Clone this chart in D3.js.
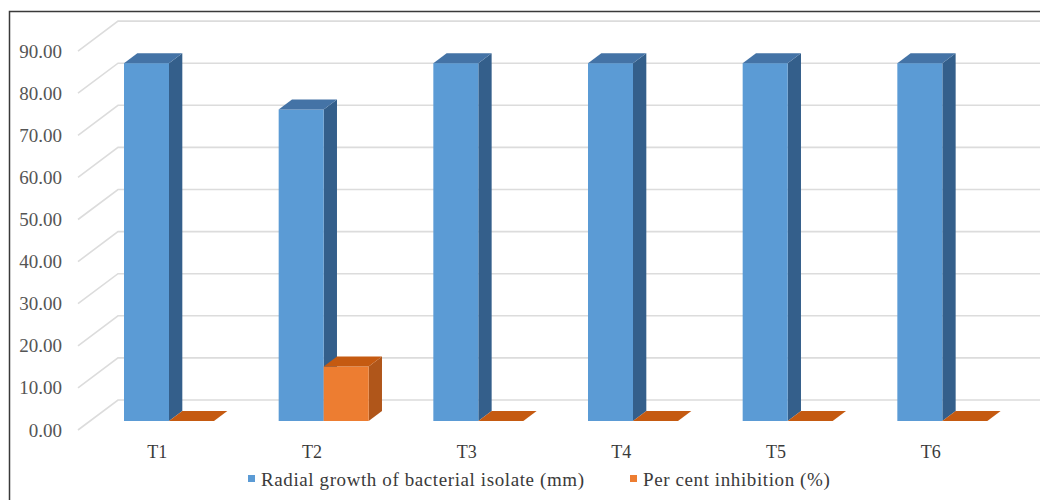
<!DOCTYPE html>
<html>
<head>
<meta charset="utf-8">
<script src="https://cdn.jsdelivr.net/npm/d3@7"></script>
<style>
  html, body { margin: 0; padding: 0; background: #fff; }
  svg { display: block; }
  svg text { font-family: "Times New Roman", Times, "Liberation Serif", "DejaVu Serif", serif !important; }
</style>
</head>
<body>
<svg id="chart" width="1040" height="500"></svg>
<script>
// Treatments and measured values
const categories = ["T1", "T2", "T3", "T4", "T5", "T6"];
const radialGrowth = [85.00, 74.00, 85.00, 85.00, 85.00, 85.00];
const perCentInhibition = [0.00, 12.94, 0.00, 0.00, 0.00, 0.00];
const seriesNames = ["Radial growth of bacterial isolate (mm)", "Per cent inhibition (%)"];
const yTicks = [0, 10, 20, 30, 40, 50, 60, 70, 80, 90];

const seriesValues = [radialGrowth, perCentInhibition];
const palette = [
  { front: "#5b9bd5", side: "#345f8b", top: "#4473a6" },
  { front: "#ed7d31", side: "#b0561a", top: "#c55a11" }
];

const W = 1040, H = 500;
const svg = d3.select("#chart");

// Oblique projection: depth 0 = front plane, depth 1 = back wall
const DX = 40, DY = -30;
const proj = (x, y, d) => [x + d * DX, y + d * DY];

const y = d3.scaleLinear().domain([0, 90]).range([430, 51.1]);
const x0 = d3.scaleBand().domain(categories).range([79, 1007]).padding(0);
const x1 = d3.scaleBand().domain(seriesNames).range([33, 123]).padding(0);
const barD0 = 0.3, barD1 = 0.633;

// Frame
svg.append("path")
  .attr("d", `M9.5,${H} V11.5 H${W}`)
  .attr("fill", "none").attr("stroke", "#3a3a3a").attr("stroke-width", 1.5);

// Gridlines: left side wall diagonals and back wall horizontals
const grid = svg.append("g").attr("stroke", "#dcdcdc").attr("stroke-width", 1.6).attr("fill", "none");
yTicks.forEach(v => {
  const a = proj(78, y(v), 0), b = proj(78, y(v), 1);
  grid.append("path").attr("d", `M${a[0]},${a[1]} L${b[0]},${b[1]} H${W + 10}`);
});

// Y axis labels
const yAxis = d3.axisLeft(y).tickValues(yTicks).tickSize(0).tickPadding(0)
  .tickFormat(d3.format(".2f"));
const gy = svg.append("g").attr("transform", "translate(62,0)").call(yAxis)
  .attr("font-family", null);
gy.select(".domain").remove();
gy.selectAll("text").attr("fill", "#555").attr("font-size", 19);

// 3D columns
const bars = svg.append("g");
const poly = pts => pts.map(p => p.join(",")).join(" ");
categories.forEach((c, i) => {
  seriesNames.forEach((s, k) => {
    const v = seriesValues[k][i];
    const xl = x0(c) + x1(s), xr = xl + x1.bandwidth();
    const yt = y(v), yb = y(0);
    const col = palette[k];
    const g = bars.append("g");
    // right side face
    g.append("polygon").attr("fill", col.side)
      .attr("points", poly([proj(xr, yt, barD0), proj(xr, yt, barD1), proj(xr, yb, barD1), proj(xr, yb, barD0)]));
    // front face
    const f0 = proj(xl, yt, barD0), f1 = proj(xr, yb, barD0);
    g.append("rect").attr("fill", col.front)
      .attr("x", f0[0]).attr("y", f0[1]).attr("width", f1[0] - f0[0]).attr("height", Math.max(0, f1[1] - f0[1]));
    // top face
    g.append("polygon").attr("fill", col.top)
      .attr("points", poly([proj(xl, yt, barD0), proj(xl, yt, barD1), proj(xr, yt, barD1), proj(xr, yt, barD0)]));
  });
});

// Category axis
const xAxis = d3.axisBottom(x0).tickSize(0).tickPadding(0);
const gx = svg.append("g").attr("transform", "translate(1,445)").call(xAxis)
  .attr("font-family", null);
gx.select(".domain").remove();
gx.selectAll("text").attr("fill", "#3a3a3a").attr("font-size", 18);

// Legend
const legendX = [248, 630];
const legend = svg.append("g");
seriesNames.forEach((s, k) => {
  legend.append("rect").attr("x", legendX[k]).attr("y", 475).attr("width", 7).attr("height", 7)
    .attr("fill", palette[k].front);
  legend.append("text").attr("x", legendX[k] + 13).attr("y", 486)
    .attr("font-size", 19).attr("letter-spacing", 0.6).attr("fill", "#3a3a3a").text(s);
});
</script>
</body>
</html>
